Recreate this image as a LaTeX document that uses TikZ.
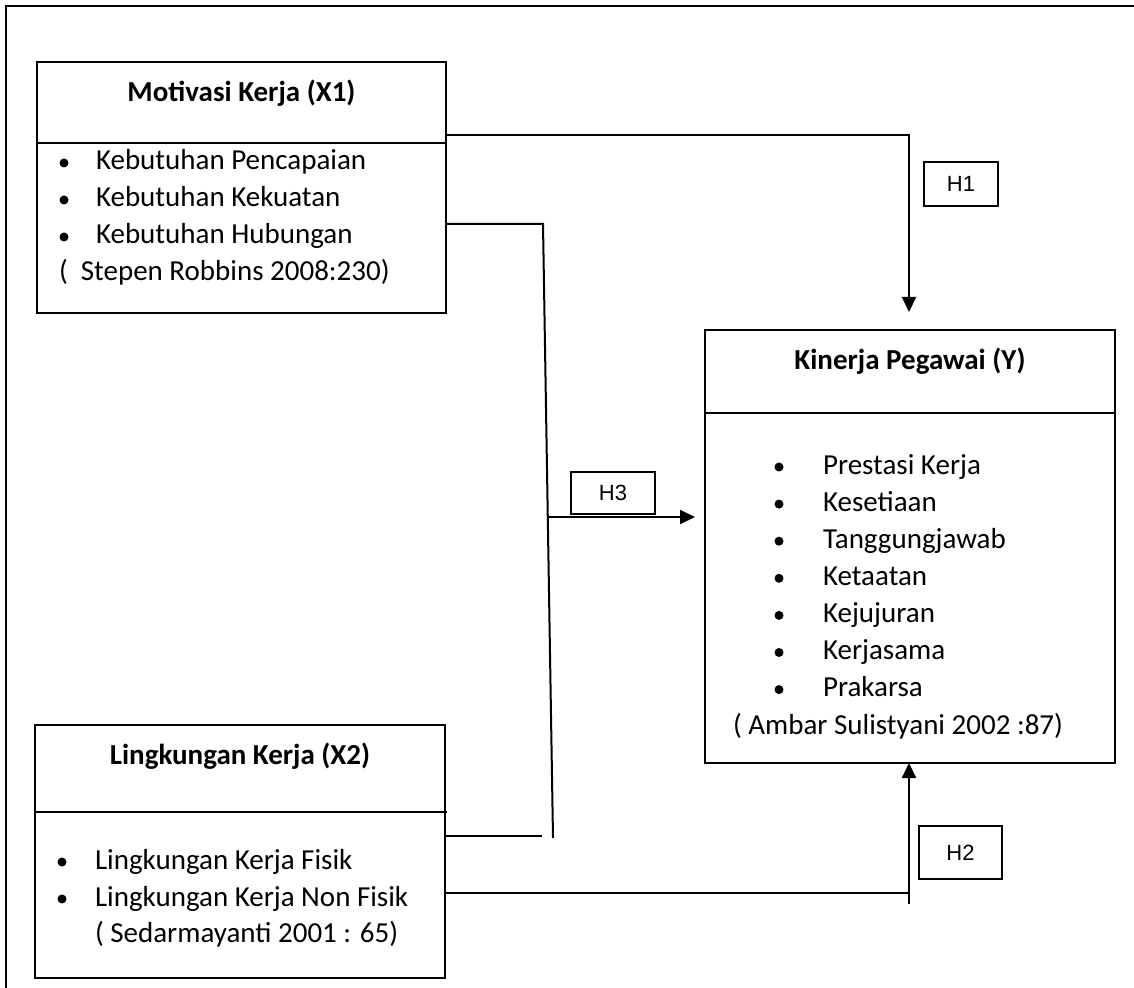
\documentclass[tikz,border=0pt]{standalone}
\usepackage{fontspec}
\setmainfont{Carlito}
\newfontfamily\hfont{Liberation Sans}
\usetikzlibrary{arrows.meta}
\begin{document}
\begin{tikzpicture}[x=0.5pt,y=-0.5pt,
  every node/.style={inner sep=0pt, outer sep=0pt},
  box/.style={draw, line width=1pt, anchor=north west, rectangle},
  hbox/.style={box, font=\hfont\fontsize{11pt}{13pt}\selectfont},
  txt/.style={anchor=base west, font=\fontsize{14.5pt}{18pt}\selectfont},
  ttl/.style={anchor=base, font=\bfseries\fontsize{14.5pt}{18pt}\selectfont},
  conn/.style={line width=1pt},
  arr/.style={conn, -{Triangle[width=7pt,length=7.5pt]}},
  dot/.style={fill=black}]
\useasboundingbox (0,0) rectangle (1134,988);
\fill[white] (0,0) rectangle (1134,988);
% outer frame (cut at right and bottom)
\draw[conn] (6,990) -- (6,6) -- (1136,6);

% boxes
\node[box, minimum width=204.5pt, minimum height=125.5pt] (x1) at (37,62) {};
\node[box, minimum width=205pt, minimum height=216.5pt] (y) at (705,330) {};
\node[box, minimum width=205pt, minimum height=126.5pt] (x2) at (35,725) {};
\node[hbox, minimum width=37pt, minimum height=22pt] (h1) at (924,162) {H1};
\node[hbox, minimum width=41.5pt, minimum height=26.5pt] (h2) at (919,826) {H2};
\node[hbox, minimum width=42pt, minimum height=21pt] (h3) at (571,472) {H3};

% separators
\coordinate (s1) at (0,143);
\coordinate (sy) at (0,413);
\coordinate (s2) at (0,812);
\draw[conn] (x1.west |- s1) -- (x1.east |- s1);
\draw[conn] (y.west |- sy) -- (y.east |- sy);
\draw[conn] (x2.west |- s2) -- ([xshift=1pt]x2.east |- s2);

% X1 content
\node[ttl] (t1) at (241.5,102) {Motivasi Kerja (X1)};
\foreach \b/\t [count=\i] in {170/Kebutuhan Pencapaian, 207/Kebutuhan Kekuatan, 244/Kebutuhan Hubungan}{
  \fill[dot] (64,\b-7) circle[radius=2.25pt];
  \node[txt] (a\i) at (96,\b) {\t};
}
\node[txt] (a4) at (59,281) {(\ \ Stepen Robbins 2008:230)};

% Y content
\node[ttl] (ty) at (910,370) {Kinerja Pegawai (Y)};
\foreach \t [count=\i] in {Prestasi Kerja, Kesetiaan, Tanggungjawab, Ketaatan, Kejujuran, Kerjasama, Prakarsa}{
  \pgfmathsetmacro{\b}{474+37.1*(\i-1)}
  \fill[dot] (779,\b-7) circle[radius=2.25pt];
  \node[txt] (b\i) at (823,\b) {\t};
}
\node[txt] (b8) at (733,734) {( Ambar Sulistyani 2002 :87)};

% X2 content
\node[ttl] (t2) at (240,764) {Lingkungan Kerja (X2)};
\foreach \b/\t [count=\i] in {869/Lingkungan Kerja Fisik, 906/Lingkungan Kerja Non Fisik}{
  \fill[dot] (62,\b-7) circle[radius=2.25pt];
  \node[txt] (c\i) at (95,\b) {\t};
}
\node[txt] (c3) at (95,942) {( Sedarmayanti 2001 : 65)};

% H1 connector
\coordinate (c1) at (909,135);
\coordinate (c1t) at (909,312);
\draw[arr] (x1.east |- c1) -- (c1) -- (c1t);

% H3 connectors
\coordinate (c3a) at (543,224);
\coordinate (c3b) at (553,838);
\draw[conn] (x1.east |- c3a) -- (c3a) -- (c3b);
\coordinate (c3c) at (542,836);
\draw[conn] ([xshift=0.5pt]x2.east |- c3c) -- (c3c);
\coordinate (c3s) at (548,517);
\draw[arr, shorten >=5pt] (c3s) -- (y.west |- c3s);

% H2 connectors
\coordinate (c2) at (909,893);
\coordinate (c2b) at (909,904);
\draw[conn] ([xshift=0.5pt]x2.east |- c2) -- (c2);
\draw[arr] (c2b) -- (y.south -| c2b);
\end{tikzpicture}
\end{document}
